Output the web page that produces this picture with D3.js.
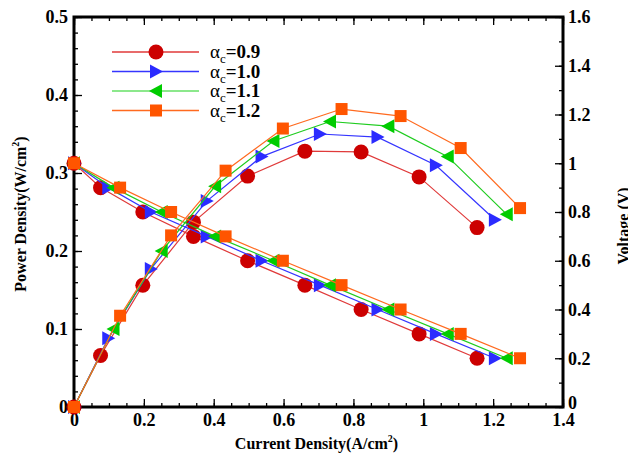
<!DOCTYPE html>
<html>
<head>
<meta charset="utf-8">
<script src="https://cdn.jsdelivr.net/npm/d3@7/dist/d3.min.js"></script>
<style>
  body { margin: 0; background: #fff; }
  text { font-family: "Liberation Serif", "Times New Roman", serif; }
  .tick-label { font-size: 18px; font-weight: bold; }
  .axis-title { font-size: 16px; font-weight: bold; }
</style>
</head>
<body>
<div id="chart"></div>
<script>
(function () {

  // values
  var seriesNames = ['0.9', '1.0', '1.1', '1.2']

  var currentRed = [0, 0.076, 0.197, 0.342, 0.497, 0.661, 0.822, 0.988, 1.154]
  var currentBlue = [0, 0.098, 0.22, 0.38, 0.537, 0.704, 0.869, 1.036, 1.205]
  var currentGreen = [0, 0.113, 0.251, 0.404, 0.571, 0.733, 0.90, 1.07, 1.239]
  var currentOrange = [0, 0.132, 0.278, 0.434, 0.598, 0.766, 0.935, 1.107, 1.277]

  var voltage = [1.0, 0.9, 0.8, 0.7, 0.6, 0.5, 0.4, 0.3, 0.2]

  var powerRed = [0, 0.066, 0.156, 0.237, 0.296, 0.328, 0.327, 0.295, 0.230]
  var powerBlue = [0, 0.088, 0.177, 0.264, 0.321, 0.350, 0.346, 0.310, 0.240]
  var powerGreen = [0, 0.100, 0.200, 0.283, 0.341, 0.366, 0.360, 0.321, 0.247]
  var powerOrange = [0, 0.117, 0.220, 0.303, 0.357, 0.382, 0.373, 0.332, 0.255]

  var xTicks = [0, 0.2, 0.4, 0.6, 0.8, 1, 1.2, 1.4]
  var xTickLabels = ['0', '0.2', '0.4', '0.6', '0.8', '1', '1.2', '1.4']
  var yTicks = [0, 0.1, 0.2, 0.3, 0.4, 0.5]
  var yTickLabels = ['0', '0.1', '0.2', '0.3', '0.4', '0.5']
  var vTicks = [0, 0.2, 0.4, 0.6, 0.8, 1, 1.2, 1.4, 1.6]
  var vTickLabels = ['0', '0.2', '0.4', '0.6', '0.8', '1', '1.2', '1.4', '1.6']

  var margin = { top: 17, right: 65, bottom: 50, left: 74 }

  var width = 628 - margin.left - margin.right,
      height = 457 - margin.top - margin.bottom

  var svg = d3.select("#chart").append("svg")
    .attr("width", width + margin.left + margin.right)
    .attr("height", height + margin.top + margin.bottom)
    .append("g")
    .attr("transform", "translate(" + margin.left + "," + margin.top + ")")

  var xPositionScale = d3.scaleLinear().domain([0, 1.4]).range([0, width])
  var yPositionScale = d3.scaleLinear().domain([0, 0.5]).range([height, 0])
  var vPositionScale = d3.scaleLinear().domain([0, 1.6]).range([height, 0])

  var styles = [
    { line: '#e03a3a', fill: '#cc0000', shape: 'circle' },
    { line: '#3535ff', fill: '#2b2bff', shape: 'right' },
    { line: '#1fcc1f', fill: '#00cc00', shape: 'left' },
    { line: '#ff6a1f', fill: '#ff5500', shape: 'square' }
  ]

  var currents = [currentRed, currentBlue, currentGreen, currentOrange]
  var powers = [powerRed, powerBlue, powerGreen, powerOrange]

  // axes: minor ticks first, then major
  function tickAxis(axis, scale, count, size, values, labels) {
    var a = axis(scale).tickSizeInner(-size).tickSizeOuter(0)
    if (values) {
      a.tickValues(values).tickFormat(function (d, i) { return labels ? labels[i] : '' })
    } else {
      a.ticks(count).tickFormat('')
    }
    return a
  }

  function drawAxis(a, transform, padding) {
    var g = svg.append("g").attr("transform", transform).call(a.tickPadding(padding))
    g.select(".domain").remove()
    g.selectAll("line").attr("stroke", "#000").attr("stroke-width", 1.3)
    g.selectAll("text").attr("class", "tick-label").attr("fill", "#000")
      .attr("font-size", null).attr("font-family", null)
    return g
  }

  drawAxis(tickAxis(d3.axisBottom, xPositionScale, 28, 4), "translate(0," + height + ")", 4)
  drawAxis(tickAxis(d3.axisBottom, xPositionScale, 0, 8, xTicks, xTickLabels), "translate(0," + height + ")", 6)
  drawAxis(tickAxis(d3.axisTop, xPositionScale, 28, 4), "translate(0,0)", 4)
  drawAxis(tickAxis(d3.axisTop, xPositionScale, 0, 8, xTicks, null), "translate(0,0)", 4)

  drawAxis(tickAxis(d3.axisLeft, yPositionScale, 25, 4), "translate(0,0)", 4)
  drawAxis(tickAxis(d3.axisLeft, yPositionScale, 0, 8, yTicks, yTickLabels), "translate(0,0)", 6)
  drawAxis(tickAxis(d3.axisRight, vPositionScale, 16, 4), "translate(" + width + ",0)", 4)
  var vAxis = drawAxis(tickAxis(d3.axisRight, vPositionScale, 0, 8, vTicks, vTickLabels), "translate(" + width + ",0)", 5)
  // the bottom "0" of the voltage axis sits a little high, clear of "1.4"
  vAxis.selectAll("text").filter(function (d) { return d === 0 }).attr("dy", "0.1em")

  // frame
  svg.append("rect")
    .attr("width", width)
    .attr("height", height)
    .attr("fill", "none")
    .attr("stroke", "#000")
    .attr("stroke-width", 3)

  function marker(sel, shape, fill) {
    if (shape === 'circle') {
      sel.append("circle").attr("r", 7.5).attr("fill", fill)
    } else if (shape === 'square') {
      sel.append("rect").attr("x", -6).attr("y", -6).attr("width", 12).attr("height", 12).attr("fill", fill)
    } else if (shape === 'right') {
      sel.append("path").attr("d", "M-6,-7L7,0L-6,7Z").attr("fill", fill)
    } else {
      sel.append("path").attr("d", "M6,-7L-7,0L6,7Z").attr("fill", fill)
    }
  }

  var line = d3.line()
    .x(function (d) { return xPositionScale(d[0]) })
    .y(function (d) { return d[1] })

  currents.forEach(function (cur, s) {
    var st = styles[s]
    var pPoints = cur.map(function (c, i) { return [c, yPositionScale(powers[s][i])] })
    var vPoints = cur.map(function (c, i) { return [c, vPositionScale(voltage[i])] })

    ;[pPoints, vPoints].forEach(function (pts) {
      svg.append("path")
        .datum(pts)
        .attr("d", line)
        .attr("fill", "none")
        .attr("stroke", st.line)
        .attr("stroke-width", 1.2)

      svg.selectAll(null)
        .data(pts)
        .enter().append("g")
        .attr("transform", function (d) {
          return "translate(" + xPositionScale(d[0]) + "," + d[1] + ")"
        })
        .each(function () { marker(d3.select(this), st.shape, st.fill) })
    })
  })

  // legend
  var legend = svg.append("g").attr("transform", "translate(38,35)")
  seriesNames.forEach(function (name, i) {
    var st = styles[i]
    var row = legend.append("g").attr("transform", "translate(0," + (i * 19.5) + ")")
    row.append("line")
      .attr("x1", 0).attr("x2", 87)
      .attr("stroke", i === 2 ? '#66e066' : st.line)
      .attr("stroke-width", 1.5)
    marker(row.append("g").attr("transform", "translate(44,0)"), st.shape, st.fill)
    var t = row.append("text").attr("x", 98).attr("y", 6).attr("font-size", "19px")
    t.append("tspan").text("α")
    t.append("tspan").attr("font-size", "13px").attr("dy", 5).text("c")
    t.append("tspan").attr("font-weight", "bold").attr("dy", -5).text("=" + name)
  })

  // axis titles
  var xt = svg.append("text")
    .attr("class", "axis-title")
    .attr("x", width / 2 - 2)
    .attr("y", height + 42)
    .attr("text-anchor", "middle")
  xt.append("tspan").text("Current Density(A/cm")
  xt.append("tspan").attr("font-size", "10px").attr("dy", -7).text("2")
  xt.append("tspan").attr("dy", 7).text(")")

  var yt = svg.append("text")
    .attr("class", "axis-title")
    .attr("transform", "translate(-48," + (height / 2 + 2) + ") rotate(-90)")
    .attr("text-anchor", "middle")
  yt.append("tspan").text("Power Density(W/cm")
  yt.append("tspan").attr("font-size", "10px").attr("dy", -7).text("2")
  yt.append("tspan").attr("dy", 7).text(")")

  svg.append("text")
    .attr("class", "axis-title")
    .attr("transform", "translate(" + (width + 66) + "," + (height / 2 + 14) + ") rotate(-90)")
    .attr("text-anchor", "middle")
    .text("Voltage (V)")

})()
</script>
</body>
</html>
